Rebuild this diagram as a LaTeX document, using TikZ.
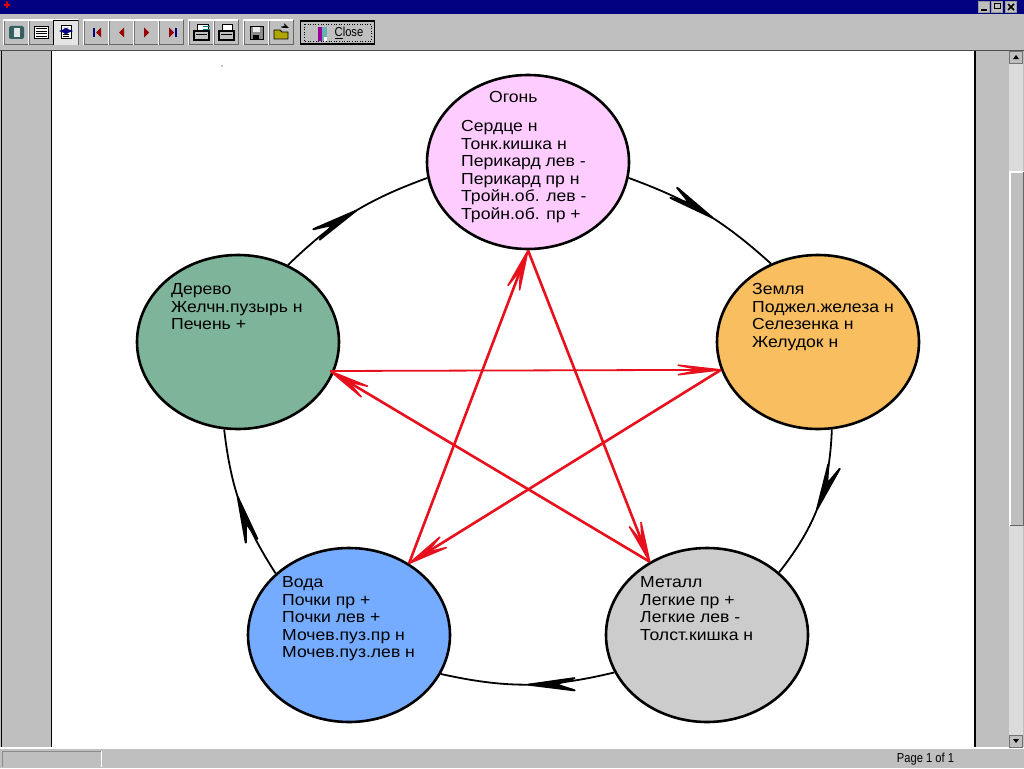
\documentclass[tikz,border=0pt]{standalone}
\usepackage{fontspec}
\setmainfont{Liberation Sans}[FakeStretch=1.1]
\newfontfamily\narrowfont[FakeStretch=0.86]{Liberation Sans}
\usetikzlibrary{positioning,calc,arrows.meta,bending,shapes.geometric,decorations.markings}
\definecolor{wingray}{HTML}{BFBFBF}
\definecolor{winnavy}{HTML}{000080}
\definecolor{firepink}{HTML}{FFCCFF}
\definecolor{earthorange}{HTML}{F8BE60}
\definecolor{woodgreen}{HTML}{7DB49A}
\definecolor{waterblue}{HTML}{76ACFF}
\definecolor{metalgray}{HTML}{CCCCCC}
\definecolor{starred}{HTML}{E8101C}
\tikzset{barb/.tip={Stealth[length=64pt,width=17pt,inset=26pt,line width=2pt,round]}}
\tikzset{rbarb/.tip={Stealth[length=54pt,width=17pt,inset=26pt,line width=1.6pt,round]}}
\tikzset{elem/.style={ellipse, draw=black, line width=2.6pt, minimum width=202pt, minimum height=174pt, inner sep=0pt}}
\tikzset{elemtext/.style={anchor=north west, inner sep=0pt, align=left, font=\fontsize{16}{17.5}\selectfont}}
\tikzset{arc/.style={draw=black, line width=1.8pt, postaction={decorate}, decoration={markings, mark=at position #1 with {\arrow{barb}}}}}
\tikzset{star/.style={draw=starred, line width=2.6pt, -{rbarb}}}
\tikzset{tbtn/.style={fill=wingray, draw=black!55, line width=.8pt, minimum width=24pt, minimum height=24pt, inner sep=0pt}}
\tikzset{hilite/.style={draw=white, line width=1.2pt}}
\tikzset{lowlite/.style={draw=black!60, line width=1.2pt}}
\begin{document}
\begin{tikzpicture}[x=1pt,y=-1pt]
	\useasboundingbox (0,0) rectangle (1024,768);
	% window
	\fill[wingray] (0,0) rectangle (1024,768);
	\fill[winnavy] (0,0) rectangle (1024,14);
	\fill[red!85!black] (4,4) rectangle (10,6) (6,1.5) rectangle (8,8);
	\fill[white] (52,51) rectangle (974,747);
	\draw[black!70, line width=1pt] (0,50.5) -- (1024,50.5);
	\draw[black, line width=1pt] (51.5,51) -- (51.5,747);
	\draw[black, line width=.8pt] (1,51) -- (1,747);
	\draw[black, line width=2.6pt] (975,51) -- (975,747);
	\draw[white, line width=1.6pt] (0,748) -- (1024,748);
	\fill[black] (222,66) circle (.6);
	% title bar buttons
	\foreach \x/\nm in {984/bmin, 997/bmax, 1011/bclose}
		\node[tbtn, minimum width=11pt, minimum height=11pt, draw=black!40, line width=.5pt] (\nm) at (\x,7) {};
	\fill[black] (981,9) rectangle (987,11);
	\draw[black, line width=1pt] (994,4) rectangle (1000,9);
	\draw[black, line width=1.6pt] (1008,4) -- (1014,10) (1014,4) -- (1008,10);
	% scrollbar
	\fill[black!14] (1009,63) rectangle (1023,735);
	\node[tbtn, minimum width=13pt, minimum height=12pt, anchor=north west] (sup) at (1009,51) {};
	\node[tbtn, minimum width=13pt, minimum height=12pt, anchor=north west] (sdown) at (1009,735) {};
	\node[tbtn, minimum width=13pt, minimum height=353pt, anchor=north west, draw=none] (thumb) at (1010,172) {};
	\draw[hilite] (thumb.south west) -- (thumb.north west) -- (thumb.north east);
	\draw[lowlite] (thumb.north east) -- (thumb.south east) -- (thumb.south west);
	\fill[black] (1013,59) -- (1019,59) -- (1016,55) -- cycle;
	\fill[black] (1013,739) -- (1019,739) -- (1016,743) -- cycle;
	% status bar
	\draw[black!45, line width=.8pt] (2,767) -- (2,751) -- (101,751);
	\draw[white, line width=.8pt] (101,751) -- (101,767);
	\node[inner sep=0pt, font=\narrowfont\fontsize{13}{13}\selectfont] (pageno) at (925.5,759) {Page 1 of 1};
	% toolbar
	\foreach \x/\nm in {16/b1, 41/b2, 66/b3, 96/b4, 121/b5, 146/b6, 171/b7, 201/b8, 226/b9, 256/b10, 281/b11} {
		\node[tbtn] (\nm) at (\x,32.5) {};
		\draw[hilite] (\nm.south west) -- (\nm.north west) -- (\nm.north east);
		\draw[lowlite] (\nm.north east) -- (\nm.south east) -- (\nm.south west);
	}
	\fill[black!10] (b3.south west) rectangle (b3.north east);
	\draw[black, line width=1pt] (b3.south west) -- (b3.north west) -- (b3.north east);
	% toolbar icons
	\fill[teal!45!black!80, rounded corners=2pt] (9,26) rectangle (24,39);
	\fill[white!80!gray] (13.5,28) rectangle (19.5,37);
	\draw[black, fill=white, line width=1pt] (34.5,26.5) rectangle (48.5,38.5);
	\foreach \y in {29,31.5,34,36.5} \draw[black, line width=1pt] (36,\y) -- (47,\y);
	\draw[black, fill=white, line width=1pt] (61,26) rectangle (71,39);
	\draw[winnavy, line width=1.4pt, <->, >=Stealth] (59,31) -- (73,31);
	\foreach \y in {34,36.5} \draw[black, line width=.8pt] (63,\y) -- (69,\y);
	\fill[winnavy] (93,28) rectangle (95,37);
	\fill[red!60!black] (96,32.5) -- (101,27.5) -- (101,37.5) -- cycle;
	\fill[red!60!black] (119,32.5) -- (124,27.5) -- (124,37.5) -- cycle;
	\fill[red!60!black] (149,32.5) -- (144,27.5) -- (144,37.5) -- cycle;
	\fill[red!60!black] (174,32.5) -- (169,27.5) -- (169,37.5) -- cycle;
	\fill[winnavy] (175,28) rectangle (177,37);
	\draw[black, fill=black!25, line width=1.2pt] (194,31) rectangle (209,40);
	\draw[black, fill=white, line width=1pt] (197,25) rectangle (208,31);
	\draw[black, line width=1pt] (196,35) -- (207,35);
	\draw[teal, line width=1pt] (203,27) -- (210,27) (203,30) -- (210,30);
	\draw[black, fill=black!25, line width=1.2pt] (219,31) rectangle (234,40);
	\draw[black, fill=white, line width=1pt] (222,25) rectangle (232,31);
	\draw[black, line width=1pt] (221,35) -- (232,35);
	\draw[black, fill=black!45, line width=1pt] (250,26.5) rectangle (263,39.5);
	\fill[white!85!gray] (253,27) rectangle (260,32);
	\fill[black] (253,35) rectangle (259,39.5);
	\draw[black, fill=olive!70!yellow, line width=.8pt] (274,39) -- (274,30) -- (280,30) -- (282,32) -- (288,32) -- (288,39) -- cycle;
	\draw[black, line width=.8pt, ->, >=Stealth] (281,27) to[bend left=30] (289,28);
	% close button
	\node[tbtn, minimum width=74pt, minimum height=23pt, draw=black, line width=1.4pt] (closebtn) at (337.5,32.5) {};
	\draw[black, dotted, line width=.6pt] (304,24) rectangle (371,41);
	\fill[violet!80!magenta] (318,27) rectangle (322,41);
	\fill[teal!60!white] (322,27) rectangle (327,41);
	\fill[white] (324,37) rectangle (327,41);
	\node[inner sep=0pt, font=\narrowfont\fontsize{13}{13}\selectfont] (closelbl) at (349,33) {\underline{C}lose};
	% elements
	\node[elem, fill=firepink] (fire) at (528,162) {};
	\node[elem, fill=earthorange] (earth) at (818,342) {};
	\node[elem, fill=woodgreen] (wood) at (238,342) {};
	\node[elem, fill=waterblue] (water) at (349,635) {};
	\node[elem, fill=metalgray] (metal) at (707,635) {};
	\coordinate (woodtip) at (330,371);
	% outer cycle
	\draw[arc=.56] (fire.-9) to[bend left=11] (earth.121);
	\draw[arc=.53] (earth.-81) to[bend left=18] (metal.41);
	\draw[arc=.50] (metal.202) to[bend left=13] (water.-23);
	\draw[arc=.56] (water.140) to[bend left=13] (wood.261);
	\draw[arc=.53] (wood.57) to[bend left=12] (fire.189);
	% star
	\draw[star] (fire.-90) -- (metal.128);
	\draw[star] (metal.128) -- (woodtip);
	\draw[star, line width=1.8pt, -{Stealth[length=66pt,width=15pt,inset=36pt,line width=1.6pt,round]}] (woodtip) -- (earth.196);
	\draw[star] (earth.196) -- (water.50);
	\draw[star] (water.50) -- (fire.-90);
	% labels
	\node[elemtext] (firehead) at (489,91) {Огонь};
	\node[elemtext] (firelbl) at (461,120.5) {Сердце н\\Тонк.кишка н\\Перикард лев -\\Перикард пр н\\Тройн.об. лев -\\Тройн.об. пр +};
	\node[elemtext] (earthlbl) at (752,283.5) {Земля\\Поджел.железа н\\Селезенка н\\Желудок н};
	\node[elemtext] (woodlbl) at (171,283.5) {Дерево\\Желчн.пузырь н\\Печень +};
	\node[elemtext] (waterlbl) at (282,576.5) {Вода\\Почки пр +\\Почки лев +\\Мочев.пуз.пр н\\Мочев.пуз.лев н};
	\node[elemtext] (metallbl) at (640,576.5) {Металл\\Легкие пр +\\Легкие лев -\\Толст.кишка н};
\end{tikzpicture}
\end{document}
